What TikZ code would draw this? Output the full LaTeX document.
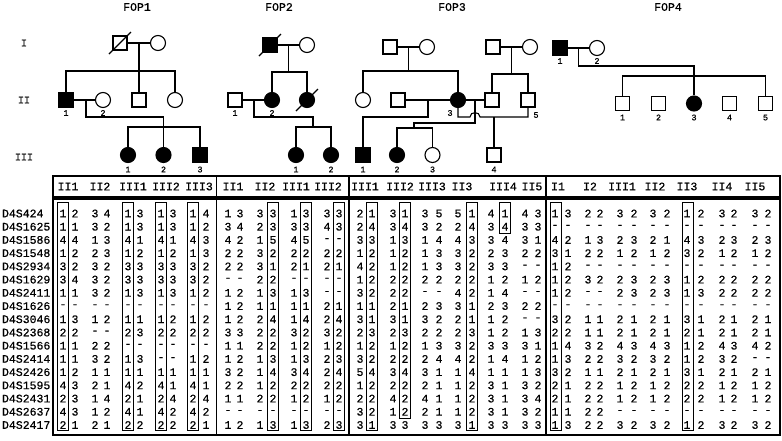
\documentclass[tikz,border=0pt]{standalone}
\usepackage{fontspec}
\setmainfont{Liberation Mono}[FakeBold=0.6]
\usetikzlibrary{positioning,calc}

\tikzset{
  male/.style={draw, rectangle, minimum size=14pt, inner sep=0pt, fill=white},
  female/.style={draw, circle, minimum size=15pt, inner sep=0pt, fill=white},
  aff/.style={fill=black},
  num/.style={font=\fontsize{8.5}{9}\selectfont, inner sep=0pt},
  gen/.style={font=\fontsize{10}{11}\selectfont, inner sep=0pt},
  fop/.style={font=\fontsize{11.5}{12}\selectfont, inner sep=0pt},
  cell/.style={font=\fontsize{11.5}{12}\selectfont, inner sep=0pt},
  frame/.style={line width=1.8pt},
  hapbox/.style={line width=0.9pt},
}
\newcommand\deadmark[1]{\draw ([shift={(-11,11)}]#1.center) -- ([shift={(11,-11)}]#1.center);}
\def\allx{{63,75,95,107,128,140,161,173,193,206,228,240,260,273,294,306,327,339,360,372,393,405,425,439,458,472,491,505,525,538,555,568,588,600,620,634,653,667,687,701,722,734,755,768}}

\begin{document}
\begin{tikzpicture}[x=1pt, y=-1pt, line width=1.1pt, on grid]
 \useasboundingbox (0,0) rectangle (782,440);

 \node[gen] (g1) at (24,43) {I};
 \node[gen] (g2) at (24,100) {II};
 \node[gen] (g3) at (24,157) {III};

 % FOP1
 \node[fop] (t1) at (137,7) {FOP1};
 \node[male] (f1a) at (120,43) {};
 \node[female, right=38pt of f1a] (f1b) {};
 \node[male, aff] (f1c) at (66,100) {};
 \node[female, right=37pt of f1c] (f1d) {};
 \node[male, right=36pt of f1d] (f1e) {};
 \node[female, right=36pt of f1e] (f1f) {};
 \node[female, aff] (f1g) at (128,155) {};
 \node[female, aff, right=35.5pt of f1g] (f1h) {};
 \node[male, aff, right=36.5pt of f1h] (f1i) {};
 \node[num, below=13pt of f1c] (n1c) {1};
 \node[num, below=13pt of f1d] (n1d) {2};
 \node[num, below=14.5pt of f1g] (n1g) {1};
 \node[num, below=14.5pt of f1h] (n1h) {2};
 \node[num, below=14.5pt of f1i] (n1i) {3};
 \coordinate (f1m) at ($(f1a)!0.5!(f1b)$);
 \coordinate (f1s) at (139,71);
 \coordinate (f1n) at (86,100);
 \coordinate (f1t) at (163.5,127);
 \draw (f1a) -- (f1b);
 \draw (f1m) -- (f1e);
 \draw (f1c) -- (f1c |- f1s) -- (f1f |- f1s) -- (f1f);
 \draw (f1c) -- (f1d);
 \draw (f1n) -- ++(0,17) -| (f1h);
 \draw (f1g) -- (f1g |- f1t) -- (f1i |- f1t) -- (f1i);
 \deadmark{f1a}

 % FOP2
 \node[fop] (t2) at (279,7) {FOP2};
 \node[male, aff] (f2a) at (270,45) {};
 \node[female, right=37pt of f2a] (f2b) {};
 \node[male] (f2c) at (235,100) {};
 \node[female, aff, right=37pt of f2c] (f2d) {};
 \node[female, aff, right=35pt of f2d] (f2e) {};
 \node[female, aff] (f2f) at (296,155) {};
 \node[female, aff, right=35pt of f2f] (f2g) {};
 \node[num, below=13pt of f2c] (n2c) {1};
 \node[num, below=13pt of f2d] (n2d) {2};
 \node[num, below=14.5pt of f2f] (n2f) {1};
 \node[num, below=14.5pt of f2g] (n2g) {2};
 \coordinate (f2m) at ($(f2a)!0.5!(f2b)$);
 \coordinate (f2s) at (288.5,72);
 \coordinate (f2n) at (254,100);
 \coordinate (f2t) at (313,127);
 \draw (f2a) -- (f2b);
 \draw (f2m) -- (f2s);
 \draw (f2d) -- (f2d |- f2s) -- (f2e |- f2s) -- (f2e);
 \draw (f2c) -- (f2d);
 \draw (f2n) -- ++(0,17) -| (f2t);
 \draw (f2f) -- (f2f |- f2t) -- (f2g |- f2t) -- (f2g);
 \deadmark{f2a}
 \deadmark{f2e}

 % FOP3
 \node[fop] (t3) at (452,7) {FOP3};
 \node[male] (f3a) at (390,47) {};
 \node[female, right=37pt of f3a] (f3b) {};
 \node[male] (f3c) at (493,47) {};
 \node[female, right=37pt of f3c] (f3d) {};
 \node[female] (f3e) at (363,100) {};
 \node[male, right=35pt of f3e] (f3f) {};
 \node[female, aff, right=60pt of f3f] (f3g) {};
 \node[male, right=34pt of f3g] (f3h) {};
 \node[male, right=36pt of f3h] (f3i) {};
 \node[male, aff] (f3j) at (363,155) {};
 \node[female, aff, right=34pt of f3j] (f3k) {};
 \node[female, right=35.5pt of f3k] (f3l) {};
 \node[male] (f3o) at (494,155) {};
 \node[num, below left=13pt and 8pt of f3g] (n3g) {3};
 \node[num, below right=15pt and 8pt of f3i] (n3i) {5};
 \node[num, below=14.5pt of f3j] (n3j) {1};
 \node[num, below=14.5pt of f3k] (n3k) {2};
 \node[num, below=14.5pt of f3l] (n3l) {3};
 \node[num, below=14.5pt of f3o] (n3o) {4};
 \coordinate (f3m) at ($(f3a)!0.5!(f3b)$);
 \coordinate (f3s) at (408.5,71);
 \coordinate (f3n) at ($(f3c)!0.5!(f3d)$);
 \coordinate (f3r) at (511.5,74);
 \coordinate (f3p) at (428,100);
 \coordinate (f3q) at (475,100);
 \coordinate (f3u) at (414,128);
 \coordinate (f3v) at (494,117);
 \draw (f3a) -- (f3b);
 \draw (f3m) -- (f3s);
 \draw (f3e) -- (f3e |- f3s) -- (f3g |- f3s) -- (f3g);
 \draw (f3c) -- (f3d);
 \draw (f3n) -- (f3r);
 \draw (f3h) -- (f3h |- f3r) -- (f3i |- f3r) -- (f3i);
 \draw (f3f) -- (f3g);
 \draw (f3p) -- ++(0,17) -| (f3j);
 \draw (f3g) -- (f3h);
 \draw (f3q) -- ++(0,23) -| (f3u);
 \draw (f3k) -- (f3k |- f3u) -- (f3l |- f3u) -- (f3l);
 \draw (f3g) -- (f3g |- f3v) -- ([xshift=-5pt]f3q |- f3v)
   to[out=90, in=90, looseness=1.5] ([xshift=5pt]f3q |- f3v) -- (f3i |- f3v) -- (f3i);
 \draw (f3v) -- (f3o);

 % FOP4
 \node[fop] (t4) at (668,7) {FOP4};
 \node[male, aff] (f4a) at (560,48) {};
 \node[female, right=37pt of f4a] (f4b) {};
 \node[male] (f4c) at (622.5,103.5) {};
 \node[male, right=36pt of f4c] (f4d) {};
 \node[female, aff, right=35.5pt of f4d] (f4e) {};
 \node[male, right=35.5pt of f4e] (f4f) {};
 \node[male, right=36pt of f4f] (f4g) {};
 \node[num, below=13pt of f4a] (n4a) {1};
 \node[num, below=13pt of f4b] (n4b) {2};
 \node[num, below=14pt of f4c] (n4c) {1};
 \node[num, below=14pt of f4d] (n4d) {2};
 \node[num, below=14pt of f4e] (n4e) {3};
 \node[num, below=14pt of f4f] (n4f) {4};
 \node[num, below=14pt of f4g] (n4g) {5};
 \coordinate (f4m) at ($(f4a)!0.5!(f4b)$);
 \coordinate (f4s) at (694,76);
 \draw (f4a) -- (f4b);
 \draw (f4m) -- ++(0,18) -| (f4e);
 \draw (f4c) -- (f4c |- f4s) -- (f4g |- f4s) -- (f4g);

 % haplotype table
 \draw[frame] (53,176) rectangle (780,197);
 \draw[frame] (53,199) rectangle (780,435);
 \foreach \sx in {216.5,349,546}
  \draw[frame] (\sx,176) -- (\sx,197) (\sx,199) -- (\sx,435);
 \foreach \hx/\hl in {68/II1,100/II2,133/III1,166/III2,199/III3,
   233/II1,265/II2,296/III1,328/III2,
   365/III1,400/III2,432/III3,462/II3,503/III4,532/II5,
   558/I1,590/I2,622/III1,655/II2,687/II3,722/II4,755/II5}
  \node[cell] (h\hx) at (\hx,186.5) {\hl};

 \foreach \mk/\vals [count=\row from 0] in {
  D4S424/{1,2,3,4,1,3,1,3,1,4,1,3,3,3,1,3,3,3,2,1,3,1,3,5,5,1,4,1,4,3,1,3,2,2,3,2,3,2,1,2,3,2,3,2},
  D4S1625/{1,1,3,2,1,3,1,3,1,2,3,4,2,3,3,3,4,3,2,4,3,4,3,2,2,4,3,4,3,3,-,-,-,-,-,-,-,-,-,-,-,-,-,-},
  D4S1586/{4,4,1,3,4,1,4,1,4,3,4,2,1,5,4,5,-,-,3,3,1,3,1,4,4,3,3,4,3,1,4,2,1,3,2,3,2,1,4,3,2,3,2,3},
  D4S1548/{1,2,2,3,1,2,1,2,1,3,2,2,3,2,2,2,2,2,1,2,1,2,1,3,3,2,2,3,2,2,3,1,2,2,1,2,1,2,3,2,1,2,1,2},
  D4S2934/{3,2,3,2,3,3,3,3,3,2,2,2,3,1,2,1,2,1,4,2,1,2,1,3,3,2,3,3,-,-,1,2,-,-,-,-,-,-,-,-,-,-,-,-},
  D4S1629/{3,4,3,2,3,3,3,3,3,2,-,-,2,2,-,-,-,-,1,2,2,2,2,2,2,2,1,2,1,2,1,2,3,2,2,3,2,3,1,2,2,2,2,2},
  D4S2411/{1,1,3,2,1,3,1,3,1,2,1,2,1,3,1,3,-,-,3,2,2,2,-,-,4,2,1,4,-,-,1,2,-,-,2,3,2,3,1,3,2,2,2,2},
  D4S1626/{-,-,-,-,-,-,-,-,-,-,1,2,1,1,1,1,2,1,1,1,2,1,2,3,3,1,2,3,2,2,-,-,-,-,-,-,-,-,-,-,-,-,-,-},
  D4S3046/{1,3,1,2,1,1,1,2,1,2,1,2,2,4,1,4,2,4,3,1,3,1,3,2,2,1,1,2,-,-,3,2,1,1,2,1,2,1,3,1,2,1,2,1},
  D4S2368/{2,2,-,-,2,3,2,2,2,2,3,3,2,2,3,2,3,2,2,3,2,3,2,2,2,3,1,2,1,3,2,2,1,1,2,1,2,1,2,1,2,1,2,1},
  D4S1566/{1,1,2,2,-,-,-,-,-,-,1,1,2,2,1,2,1,2,1,2,1,2,1,3,3,2,3,3,3,1,1,4,3,2,4,3,4,3,1,2,4,3,4,2},
  D4S2414/{1,1,3,2,1,3,-,-,1,2,1,2,1,3,1,3,2,3,3,2,2,2,2,4,4,2,1,4,1,2,1,3,2,2,3,2,3,2,1,2,3,2,-,-},
  D4S2426/{1,2,1,1,1,1,1,1,1,1,3,2,1,4,3,4,2,4,5,4,3,4,3,1,1,4,1,1,1,3,3,2,1,1,2,1,2,1,3,1,2,1,2,1},
  D4S1595/{4,3,2,1,4,2,4,1,4,1,2,2,1,2,2,2,2,2,1,2,2,2,2,1,1,2,3,1,3,2,2,1,2,2,1,2,1,2,2,2,1,2,1,2},
  D4S2431/{2,3,1,4,2,1,2,4,2,4,1,1,2,2,1,2,1,2,2,2,4,2,4,1,1,2,3,1,3,4,2,1,2,2,1,2,1,2,2,2,1,2,1,2},
  D4S2637/{4,3,1,2,4,1,4,2,4,2,-,-,-,-,-,-,-,-,3,2,1,2,2,1,1,2,3,1,3,2,1,1,2,2,-,-,-,-,-,-,-,-,-,-},
  D4S2417/{2,1,2,1,2,2,2,2,2,1,1,2,1,3,1,3,2,3,3,1,3,3,3,3,3,1,3,3,3,3,1,3,2,2,3,2,3,2,1,2,3,2,3,2}} {
  \pgfmathsetmacro\ry{213.5+13.22*\row}
  \node[cell, anchor=west] (m\row) at (1.5,\ry) {\mk};
  \foreach \v [count=\col from 0] in \vals {
   \pgfmathsetmacro\cx{\allx[\col]}
   \node[cell] (a\row-\col) at (\cx,\ry) {\v};
  }
 }

 \foreach \bx/\by in {63/430,128/430,161/430,193/430,273/430,306/430,339/430,
   372/430,405/418,472/430,505/233,556/430,688/430}
  \draw[hapbox] (\bx-5.5,202) rectangle (\bx+5.5,\by);
\end{tikzpicture}
\end{document}
